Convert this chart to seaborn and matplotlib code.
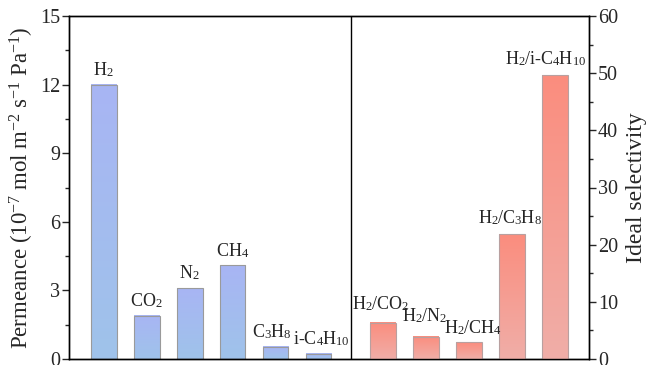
import numpy as np
import pandas as pd
import matplotlib
matplotlib.use("Agg")
import matplotlib.pyplot as plt
import seaborn as sns
from matplotlib.colors import LinearSegmentedColormap
try:
    import matplotlib._mathtext as _mt
    _mt.FontConstantsBase.script_space = 0.0
    _mt.FontConstantsBase.sub1 = 0.15
    _mt.FontConstantsBase.sub2 = 0.2
except Exception:
    pass

gases = ["H$_2$", "CO$_2$", "N$_2$", "CH$_4$", "C$_3$H$_8$", "i-C$_4$H$_{10}$"]
permeance = [12.0, 1.9, 3.1, 4.1, 0.54, 0.24]
pairs = ["H$_2$/CO$_2$", "H$_2$/N$_2$", "H$_2$/CH$_4$", "H$_2$/C$_3$H$_8$", "H$_2$/i-C$_4$H$_{10}$"]
selectivity = [6.35, 3.9, 2.9, 21.8, 49.6]

sns.set_theme(style="ticks")
plt.rcParams["font.family"] = ["Liberation Serif", "DejaVu Serif"]
plt.rcParams["mathtext.fontset"] = "custom"
plt.rcParams["mathtext.rm"] = "Liberation Serif"
plt.rcParams["mathtext.it"] = "Liberation Serif"
plt.rcParams["mathtext.default"] = "rm"

left_pos = np.arange(len(gases), dtype=float)
right_pos = np.arange(len(pairs), dtype=float) + 6.5

df_l = pd.DataFrame({"pos": left_pos, "val": permeance, "lab": gases})
df_r = pd.DataFrame({"pos": right_pos, "val": selectivity, "lab": pairs})

fig = plt.figure(figsize=(6.5, 3.65), dpi=100)
ax = fig.add_axes([69 / 650, 6 / 365, (589 - 69) / 650, (359 - 16) / 365])
ax2 = ax.twinx()

sns.barplot(data=df_l, x="pos", y="val", native_scale=True, ax=ax, width=0.6,
            color="#a4baf0", edgecolor="#9a9a9a", linewidth=0.8)
sns.barplot(data=df_r, x="pos", y="val", native_scale=True, ax=ax2, width=0.6,
            color="#f59c90", edgecolor="#b8a0a0", linewidth=0.8)

xlim = (-0.81, 11.3)
blue = LinearSegmentedColormap.from_list("b", ["#9fc3ea", "#a8b5f4"])
red = LinearSegmentedColormap.from_list("r", ["#f0aea8", "#fb8d7e"])
grad = np.linspace(0, 1, 256).reshape(-1, 1)


def gradient(a, cmap, ylim):
    for p in list(a.patches):
        x0, y0 = p.get_x(), p.get_y()
        w, h = p.get_width(), p.get_height()
        a.imshow(grad, cmap=cmap, aspect="auto", origin="lower",
                 extent=[x0, x0 + w, y0, y0 + h], zorder=p.get_zorder() - 0.1)
        p.set_facecolor("none")
    a.set_xlim(*xlim)
    a.set_ylim(*ylim)


gradient(ax, blue, (0, 15))
gradient(ax2, red, (0, 60))

fs = 14.5
lab_fs = 13
left_dx = [0, 0, 0, 0, -0.1, 0.06]
for x, v, l, dx in zip(left_pos, permeance, gases, left_dx):
    ax.text(x + dx, v + 0.22, l, ha="center", va="bottom", fontsize=lab_fs)
right_dx = [-0.05, -0.02, 0.1, -0.03, -0.2]
right_dy = [1.6, 1.9, 0.9, 1.1, 1.2]
for x, v, l, dx, dy in zip(right_pos, selectivity, pairs, right_dx, right_dy):
    ax2.text(x + dx, v + dy, l, ha="center", va="bottom", fontsize=lab_fs)

ax.axvline(5.75, color="black", lw=1.0)

ax.set_yticks(np.arange(0, 16, 3))
ax.set_yticks(np.arange(1.5, 15, 3), minor=True)
ax2.set_yticks(np.arange(0, 61, 10))
ax2.set_yticks(np.arange(5, 60, 10), minor=True)
ax.set_xticks([])
ax2.set_xticks([])
for a in (ax, ax2):
    a.set_xlabel("")
    for s in a.spines.values():
        s.set_visible(True)
        s.set_linewidth(1.0)
        s.set_color("black")
    a.tick_params(axis="y", which="major", direction="out", length=5, width=1, labelsize=fs, pad=1.5)
    a.tick_params(axis="y", which="minor", direction="out", length=3, width=1)
ax.set_ylabel("Permeance (10$^{-7}$ mol m$^{-2}$ s$^{-1}$ Pa$^{-1}$)", fontsize=16.5, labelpad=3)
ax2.set_ylabel("Ideal selectivity", fontsize=17, labelpad=6)

fig.savefig("out.png", dpi=100)
